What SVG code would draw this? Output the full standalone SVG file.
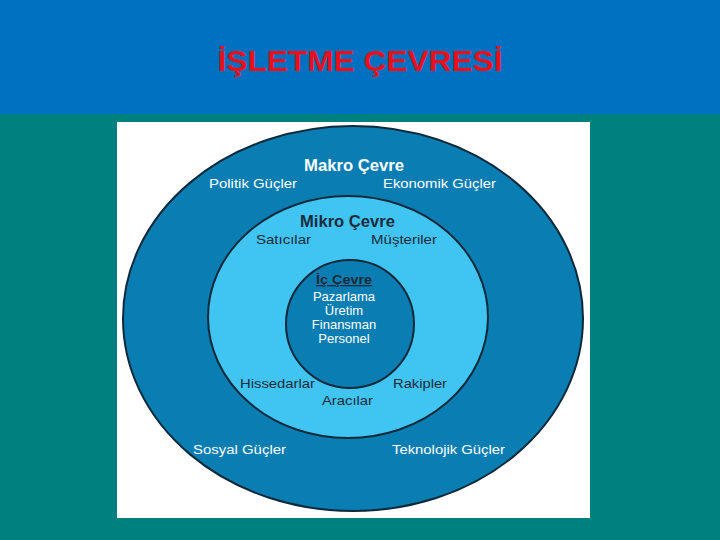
<svg xmlns="http://www.w3.org/2000/svg" width="720" height="540" viewBox="0 0 720 540">
<style>
.lbl{font-family:"Liberation Sans",Arial,sans-serif;font-size:13px}
.w{fill:#ffffff}
.d{fill:#1b2b3b}
.h{font-weight:bold;font-size:16px}
.ring{stroke:#0d2a3a;stroke-width:2}
</style>
<rect x="0" y="0" width="720" height="540" fill="#00807f"/>
<rect x="0" y="0" width="720" height="114" fill="#0070c0"/>
<text x="360" y="71" text-anchor="middle" font-family="'Liberation Sans',Arial,sans-serif" font-weight="bold" font-size="30" fill="#e8101a" textLength="285" lengthAdjust="spacingAndGlyphs">İŞLETME ÇEVRESİ</text>
<rect x="117" y="122" width="473" height="396" fill="#ffffff"/>
<g id="makro">
<ellipse class="ring" cx="353" cy="318.5" rx="230" ry="192.5" fill="#0a7db3"/>
<text class="lbl w h" x="304" y="171" textLength="100" lengthAdjust="spacingAndGlyphs">Makro Çevre</text>
<text class="lbl w" x="209" y="188" textLength="88" lengthAdjust="spacingAndGlyphs">Politik Güçler</text>
<text class="lbl w" x="383" y="188" textLength="113" lengthAdjust="spacingAndGlyphs">Ekonomik Güçler</text>
<text class="lbl w" x="193" y="454" textLength="93" lengthAdjust="spacingAndGlyphs">Sosyal Güçler</text>
<text class="lbl w" x="392" y="454" textLength="113" lengthAdjust="spacingAndGlyphs">Teknolojik Güçler</text>
</g>
<g id="mikro">
<ellipse class="ring" cx="348" cy="317" rx="140" ry="121" fill="#40c4f2"/>
<text class="lbl d h" x="300" y="227" textLength="95" lengthAdjust="spacingAndGlyphs">Mikro Çevre</text>
<text class="lbl d" x="256" y="244" textLength="55" lengthAdjust="spacingAndGlyphs">Satıcılar</text>
<text class="lbl d" x="371" y="244" textLength="66" lengthAdjust="spacingAndGlyphs">Müşteriler</text>
<text class="lbl d" x="240" y="388" textLength="75" lengthAdjust="spacingAndGlyphs">Hissedarlar</text>
<text class="lbl d" x="393" y="388" textLength="54" lengthAdjust="spacingAndGlyphs">Rakipler</text>
<text class="lbl d" x="322" y="405" textLength="51" lengthAdjust="spacingAndGlyphs">Aracılar</text>
</g>
<g id="ic">
<circle class="ring" cx="350" cy="324" r="64" fill="#0a7db3"/>
<text class="lbl d" x="316" y="284" font-weight="bold" font-size="15" text-decoration="underline" textLength="56" lengthAdjust="spacingAndGlyphs">İç Çevre</text>
<g class="lbl w" font-size="9" text-anchor="middle">
<text x="344" y="301">Pazarlama</text>
<text x="344" y="315">Üretim</text>
<text x="344" y="329">Finansman</text>
<text x="344" y="343">Personel</text>
</g>
</g>
</svg>
